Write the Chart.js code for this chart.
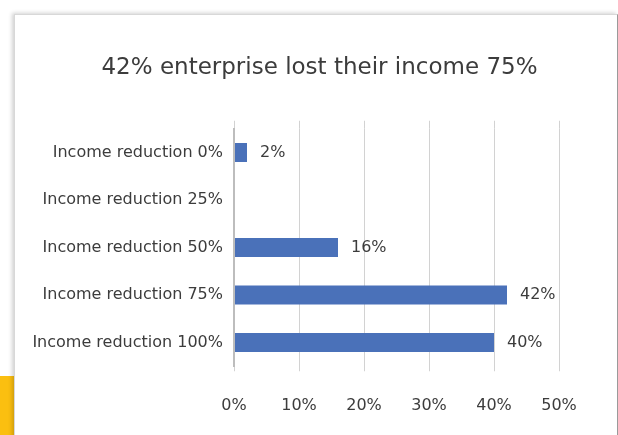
<!DOCTYPE html>
<html>
<head>
<meta charset="utf-8">
<script src="https://cdn.jsdelivr.net/npm/chart.js@4.4.0/dist/chart.umd.min.js"></script>
<style>
    html, body { margin: 0; padding: 0; background: #fff; }
    body { position: relative; width: 618px; height: 435px; overflow: hidden; }
    .accent { position: absolute; left: 0; top: 376px; width: 14px; height: 59px; background: #fbbf10; }
    .card {
        position: absolute; left: 14px; top: 14px; width: 602px; height: 440px;
        background: #fff; border: 1px solid #d8d8d8; border-right-color: #9a9a9a;
        box-shadow: -2px -1px 4px rgba(0, 0, 0, 0.18);
    }
    #chart { position: absolute; left: 0; top: 0; }
</style>
</head>
<body>
<div class="accent"></div>
<div class="card"></div>
<canvas id="chart" width="618" height="435"></canvas>
<script>
(function () {
    const titleText = '42% enterprise lost their income 75%';
    const categories = [
        'Income reduction 0%',
        'Income reduction 25%',
        'Income reduction 50%',
        'Income reduction 75%',
        'Income reduction 100%',
    ];
    // share of enterprises, in percent (no answer for the 25% group)
    const shares = [2, null, 16, 42, 40];
    const axisMin = 0;
    const axisMax = 50;
    const axisStep = 10;

    const fontFamily = "'DejaVu Sans', sans-serif";
    const textColor = '#3c3c3c';
    const gridColor = '#d2d2d2';

    Chart.defaults.font.family = fontFamily;
    Chart.defaults.color = textColor;

    // centred over the card rather than over the plot
    const cardTitle = {
        id: 'cardTitle',
        afterDraw(chart) {
            const ctx = chart.ctx;
            ctx.save();
            ctx.font = '23px ' + fontFamily;
            ctx.fillStyle = textColor;
            ctx.textAlign = 'center';
            ctx.textBaseline = 'middle';
            ctx.fillText(titleText, 319.5, 68.5);
            ctx.restore();
        },
    };

    // value labels to the right of each bar
    const barLabels = {
        id: 'barLabels',
        afterDatasetsDraw(chart) {
            const ctx = chart.ctx;
            const meta = chart.getDatasetMeta(0);
            ctx.save();
            ctx.font = '16px ' + fontFamily;
            ctx.fillStyle = textColor;
            ctx.textAlign = 'left';
            ctx.textBaseline = 'middle';
            meta.data.forEach((bar, i) => {
                const v = shares[i];
                if (v === null || v === undefined) {
                    return;
                }
                ctx.fillText(v + '%', bar.x + 13, bar.y);
            });
            ctx.restore();
        },
    };

    // vertical gridlines run a little above the plot area
    const gridOverhang = {
        id: 'gridOverhang',
        beforeDatasetsDraw(chart) {
            const ctx = chart.ctx;
            const x = chart.scales.x;
            const top = chart.chartArea.top;
            ctx.save();
            ctx.strokeStyle = gridColor;
            ctx.lineWidth = 1;
            x.ticks.forEach((t, i) => {
                const px = Math.round(x.getPixelForTick(i)) + 0.5;
                ctx.beginPath();
                ctx.moveTo(px, top - 8);
                ctx.lineTo(px, top);
                ctx.stroke();
            });
            ctx.restore();
        },
    };

    new Chart(document.getElementById('chart'), {
        type: 'bar',
        data: {
            labels: categories,
            datasets: [{
                data: shares,
                backgroundColor: '#4a71b9',
                barPercentage: 0.4,
                categoryPercentage: 1,
            }],
        },
        options: {
            indexAxis: 'y',
            responsive: false,
            animation: false,
            layout: { padding: { left: 14, right: 59, top: 128.75, bottom: 0 } },
            plugins: {
                legend: { display: false },
                tooltip: { enabled: false },
                title: { display: false },
            },
            scales: {
                x: {
                    min: axisMin,
                    max: axisMax,
                    grid: { color: gridColor, lineWidth: 1, drawTicks: true, tickLength: 5, tickColor: gridColor },
                    border: { display: false },
                    ticks: {
                        stepSize: axisStep,
                        padding: 25,
                        font: { size: 16 },
                        color: textColor,
                        callback: (v) => v + '%',
                    },
                    afterFit(scale) { scale.height = 68.75; },
                },
                y: {
                    grid: { display: false, drawTicks: false },
                    border: { display: true, color: '#bdbdbd', width: 2, z: 1 },
                    ticks: { padding: 11, font: { size: 16 }, color: textColor },
                    afterFit(scale) { scale.width = 220; },
                },
            },
        },
        plugins: [barLabels, gridOverhang, cardTitle],
    });
})();
</script>
</body>
</html>
